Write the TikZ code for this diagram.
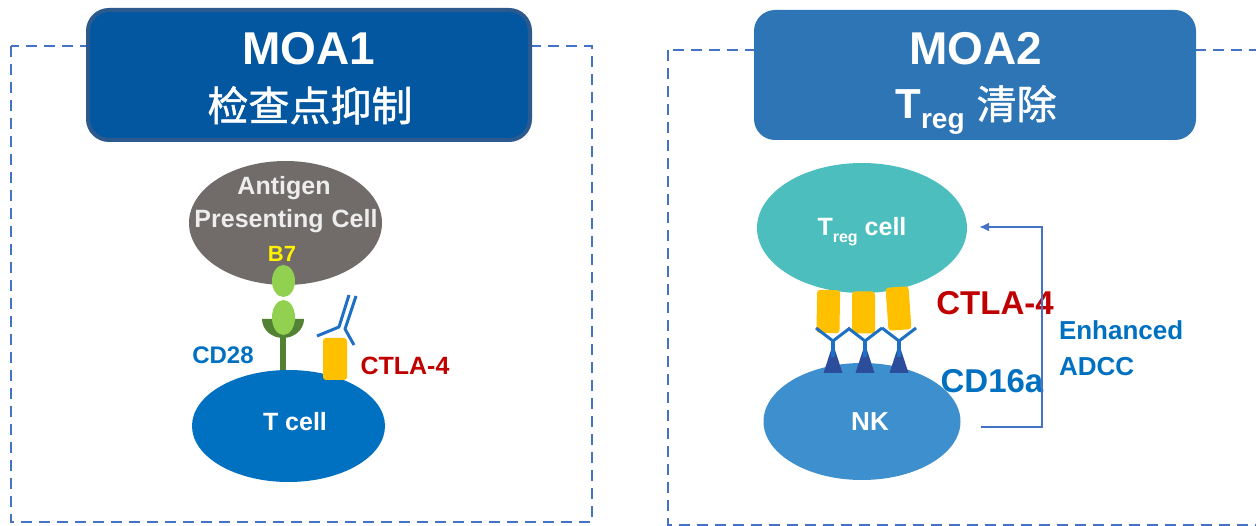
\documentclass[tikz,border=0pt]{standalone}
\usepackage{fontspec}
\setmainfont{Liberation Sans}
\newfontfamily\cjk{Noto Sans CJK SC}[FakeBold=1.2]
\usetikzlibrary{arrows.meta,shapes.geometric}

\definecolor{dashblue}{RGB}{68,114,196}
\definecolor{moaonefill}{RGB}{3,87,160}
\definecolor{moaoneline}{RGB}{44,90,143}
\definecolor{moatwofill}{RGB}{46,117,182}
\definecolor{apcgrey}{RGB}{113,107,106}
\definecolor{tcellblue}{RGB}{0,112,192}
\definecolor{bsevengreen}{RGB}{146,208,80}
\definecolor{cdgreen}{RGB}{84,130,53}
\definecolor{ctlayellow}{RGB}{255,192,0}
\definecolor{ctlared}{RGB}{192,0,0}
\definecolor{tregteal}{RGB}{77,190,190}
\definecolor{nkblue}{RGB}{62,143,206}
\definecolor{fcnavy}{RGB}{44,76,156}
\definecolor{abblue}{RGB}{30,112,196}

\newcommand\pxsize[1]{\fontsize{#1}{#1}\selectfont}
% T with a lowered "reg"
\newcommand\treg[2]{T\raisebox{-#2pt}{\pxsize{#1}reg}}

\begin{document}
\begin{tikzpicture}[x=1pt,y=1pt,yscale=-1,
  every node/.style={inner sep=0pt,outer sep=0pt},
  dashframe/.style={dashblue,line width=2.4pt,dash pattern=on 11pt off 7pt},
  titlebox/.style={rectangle,rounded corners=21pt,minimum width=442pt,minimum height=130pt},
  cell/.style={ellipse,draw=none},
  lab/.style={anchor=base,font=\bfseries\pxsize{#1}},
  ctlabox/.style={rectangle,fill=ctlayellow,rounded corners=3pt,minimum width=23pt,minimum height=43pt},
  antibody/.style={abblue,line width=3pt,line join=round}]
\clip (0,0) rectangle (1256,526);

%Dashed frames
\draw[dashframe] (11,46) rectangle (592,522);
\draw[dashframe] (668,50) rectangle (1290,525);

%Title boxes
\node[titlebox,fill=moaonefill,draw=moaoneline,line width=4pt] (boxa) at (309,75) {};
\node[titlebox,fill=moatwofill] (boxb) at (975,75) {};
\node[lab=46,white] (moaa) at (309,65) {MOA1};
\node[anchor=base,white,font=\cjk\pxsize{41}] (moaasub) at (310,121) {检查点抑制};
\node[lab=46,white] (moab) at (976,65) {MOA2};
\node[lab=42,white] (moabsub) at (976,119) {\treg{28}{10}\hspace{12pt}{\cjk\mdseries\pxsize{40}清除}};

%Left: antigen presenting cell and T cell
\node[cell,fill=apcgrey,minimum width=193pt,minimum height=124pt] (apc) at (285.5,223) {};
\node[cell,fill=tcellblue,minimum width=193pt,minimum height=112pt] (tcell) at (288.5,426) {};
\node[lab=25,white!93!black] (apca) at (284,195) {Antigen};
\node[lab=25,white!93!black] (apcb) at (286,228) {Presenting\hspace{8pt}Cell};
\node[lab=22,yellow] (bseven) at (282,262) {B7};
\node[lab=25,white] (tlab) at (295,431) {T cell};

% CD28 cup and stem
\draw[cdgreen,line width=6pt] (283,334) -- (tcell.north -| 283,0);
\fill[cdgreen] (262,319) arc[start angle=180,end angle=0,x radius=21,y radius=19]
  -- (293.5,319) arc[start angle=0,end angle=180,x radius=10,y radius=12] -- cycle;
\node[cell,fill=bsevengreen,minimum width=23pt,minimum height=32pt] (bsa) at (283.5,281) {};
\node[cell,fill=bsevengreen,minimum width=23pt,minimum height=35pt] (bsb) at (283.5,317.5) {};
\node[lab=24,tcellblue] (cdtwoeight) at (223,363.5) {CD28};

% CTLA-4 with bound antibody
\node[ctlabox,minimum width=24pt,minimum height=42pt] (ctlaa) at (335,359) {};
\draw[antibody] (317,336) -- (339,327) -- (349,295);
\draw[antibody] (356,296) -- (345,329) -- (354,345);
\node[lab=25,ctlared] (ctlaalab) at (405,375) {CTLA-4};

%Right: Treg cell and NK cell
\node[cell,fill=tregteal,minimum width=210pt,minimum height=130pt] (treg) at (862,228) {};
\node[cell,fill=nkblue,minimum width=197pt,minimum height=117pt] (nk) at (862,421.5) {};
\node[lab=25,white] (treglab) at (862,236) {\treg{16}{7} cell};
\node[lab=26,white] (nklab) at (870,431) {NK};

% CTLA-4 on Treg, antibodies on CD16a
\node[ctlabox,rotate=-1] (ctlab) at (828.3,311.5) {};
\node[ctlabox,minimum height=42pt] (ctlac) at (863.5,312.5) {};
\node[ctlabox,rotate=4] (ctlad) at (898.5,308.5) {};
\foreach \xc in {833,865,899}{
  \fill[fcnavy] (\xc-9.5,373) -- (\xc+9.5,373) -- (\xc+2,350) -- (\xc-2,350) -- cycle;
  \draw[antibody,line width=4pt] (\xc,357) -- (\xc,341);
  \draw[antibody] (\xc-17,328) -- (\xc,341) -- (\xc+17,328);
}
\node[lab=33,ctlared] (ctlablab) at (995,315) {CTLA-4};
\node[lab=33,tcellblue] (cdsixteen) at (992,393) {CD16a};

% ADCC feedback arrow
\draw[dashblue,line width=2.6pt,-{Latex[length=10pt,width=9pt]}]
  ([shift={(20,5.5)}]nk.east) -- (1042,427) -- (1042,227) -- ([shift={(12,-1)}]treg.east);
\node[lab=26,tcellblue,anchor=base west] (enh) at (1059,340) {Enhanced};
\node[lab=26,tcellblue,anchor=base west] (adcc) at (1059,376) {ADCC};

\end{tikzpicture}
\end{document}
